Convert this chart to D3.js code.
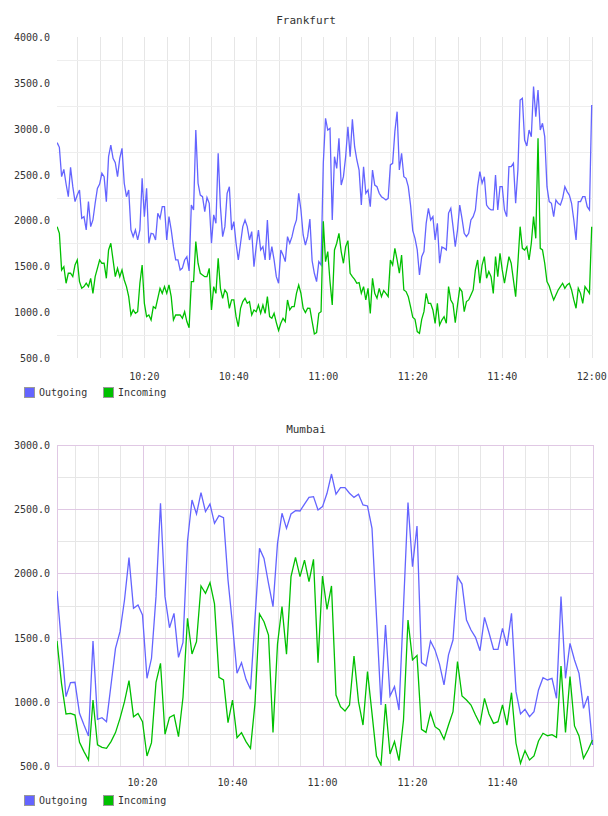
<!DOCTYPE html>
<html>
<head>
<meta charset="utf-8">
<script src="https://cdn.jsdelivr.net/npm/d3@7"></script>
<style>
body { margin: 0; background: #fff; }
text { font-family: "DejaVu Sans Mono", monospace; font-size: 10px; fill: #333; }
.title { font-size: 11px; }
</style>
</head>
<body>
<svg width="608" height="816"></svg>
<script>
// Frankfurt: one sample every 30 s, starting 10:00:30
var fraOutgoing = [2848,2797,2477,2557,2397,2259,2579,2368,2205,2277,2332,2023,2041,1896,2205,1932,2005,2187,2350,2397,
  2514,2477,2205,2695,2822,2677,2630,2477,2677,2786,2405,2259,2332,1896,1823,1896,1787,1896,2459,2041,
  2350,1751,1860,1852,1787,2078,2023,2150,2150,1787,2041,1896,1714,1569,1569,1460,1480,1569,1605,1450,
  2168,2114,2986,2405,2277,2259,2096,2250,2187,1751,2060,1969,2732,2150,1823,1932,2295,2368,1896,1987,
  1751,1569,1751,1932,2005,1932,1787,1878,1496,1714,1896,1678,1714,1569,2005,1569,1714,1569,1387,1315,
  1678,1623,1551,1823,1751,1823,1932,2005,2295,2114,1841,1732,1823,2015,1560,1424,1333,1551,1514,2623,
  3113,2986,3004,2005,2695,2568,2895,2386,2477,2695,3022,2695,3102,2804,2659,2550,2168,2586,2296,2332,
  2150,2550,2386,2368,2296,2259,2241,2223,2241,2605,2623,2968,3186,2550,2732,2477,2459,2368,2168,1889,
  1805,1678,1405,1605,1660,1969,2132,2005,2041,1787,1969,1533,1710,1700,1678,2080,2132,1932,1714,1896,
  2168,2023,1860,1823,1860,2005,2041,2114,2368,2532,2405,2477,2168,2132,2114,2114,2496,2114,2368,2368,
  2114,2041,2586,2586,2623,2187,2550,3313,3331,2877,2812,2986,2913,3459,3131,3422,2986,3059,2913,2368,
  2205,2187,2041,2223,2187,2168,2241,2368,2314,2277,2187,2005,1787,2205,2205,2259,2259,2150,2114,3259];

var fraIncoming = [1932,1860,1460,1496,1315,1424,1424,1387,1514,1569,1333,1260,1278,1315,1278,1369,1205,1387,1478,1569,
  1533,1533,1369,1678,1751,1569,1387,1478,1387,1460,1351,1278,1169,969,1024,987,1005,1315,1514,1096,
  951,969,915,1060,1042,1151,1260,1205,1278,1205,1296,1169,915,969,969,969,933,1005,897,830,
  1333,1333,1769,1533,1424,1405,1387,1387,1478,1024,1278,1205,1587,1260,1151,1242,1205,1042,1133,1133,
  951,842,1042,1115,1151,1096,1115,969,1024,1005,1078,987,1078,987,1169,951,933,987,886,800,
  878,933,897,1133,1024,1060,1060,1205,1296,1205,1042,995,1042,1040,900,762,777,987,1005,1990,
  1550,1660,1333,1078,1678,1751,1860,1660,1533,1714,1780,1424,1387,1358,1315,1322,1205,1278,1133,1260,
  987,1369,1205,1151,1260,1169,1235,1205,1169,1569,1514,1696,1569,1424,1623,1242,1224,1169,1060,944,
  922,788,769,922,1005,1205,1096,1096,1024,878,1096,860,914,951,878,1278,1133,1089,886,1078,
  1260,1224,1005,1115,1133,1187,1242,1460,1569,1315,1514,1605,1369,1442,1387,1205,1605,1387,1642,1460,
  1315,1460,1605,1533,1351,1169,1533,1932,1696,1678,1714,1569,1751,2041,1805,2895,1696,1678,1533,1333,
  1285,1205,1133,1187,1242,1278,1315,1260,1296,1315,1242,1133,1042,1260,1205,1096,1278,1242,1205,1932];

// Mumbai: one sample per minute, starting 10:01
var mumOutgoing = [1863,1450,1040,1149,1152,910,819,734,1474,863,876,845,1131,1416,1546,1793,2123,1728,1754,1676,
  1183,1339,1819,2546,1819,1577,1689,1346,1463,2250,2572,2463,2629,2481,2540,2390,2450,2434,1950,1600,
  1222,1305,1175,1097,1650,2195,2117,1923,1741,2234,2468,2351,2463,2489,2486,2540,2592,2598,2494,2520,
  2624,2774,2618,2668,2668,2624,2592,2616,2533,2525,2351,1663,975,1598,1045,1118,936,1741,2551,2052,
  2369,1305,1279,1474,1404,1294,1131,1365,1481,1975,1917,1637,1559,1502,1398,1658,1538,1409,1409,1572,
  1435,1689,1079,905,941,884,923,1092,1188,1170,1183,1027,1819,1183,1455,1326,1222,949,1045,664];

var mumIncoming = [1474,1144,905,910,897,684,612,547,1014,664,645,638,690,760,871,1001,1165,884,910,845,
  578,682,1152,1300,747,879,897,728,1035,1650,1372,1468,1902,1845,1928,1762,1191,1170,838,1014,
  721,760,690,638,988,1684,1624,1520,762,1450,1741,1370,1975,2125,1975,2104,1936,2110,1305,1980,
  1720,1902,1053,962,928,975,1357,1001,819,1235,910,578,508,983,593,690,542,858,1637,1326,
  1360,786,762,915,806,780,708,819,923,1313,1045,1014,975,897,827,1027,905,832,845,975,
  819,1071,677,521,620,547,578,695,755,736,744,723,1279,762,1196,812,734,560,625,703];

var seriesNames = ["Outgoing", "Incoming"];
var seriesColors = ["#6464ff", "#00c000"];

var fraYTicks = [500, 1000, 1500, 2000, 2500, 3000, 3500, 4000];
var fraYGrid = [750, 1250, 1750, 2250, 2750, 3250, 3750];
var mumYTicks = [500, 1000, 1500, 2000, 2500, 3000];
var mumYMinor = [750, 1250, 1750, 2250, 2750];

var fraXTicks = ["10:20", "10:40", "11:00", "11:20", "11:40", "12:00"];
var mumXTicks = ["10:20", "10:40", "11:00", "11:20", "11:40"];

var parseTime = d3.timeParse("%H:%M:%S"),
    parseHM = d3.timeParse("%H:%M"),
    fmt = d3.timeFormat("%H:%M"),
    fmtY = d3.format(".1f");

var fraStart = parseTime("10:00:30"), mumStart = parseTime("10:01:00");

var svg = d3.select("svg");

function times(start, stepSec, n) {
  return d3.range(n).map(function(i) { return new Date(+start + i * stepSec * 1000); });
}

function drawChart(o) {
  var g = svg.append("g");
  var x = o.x, y = o.y;

  // clip for the plot area
  g.append("clipPath").attr("id", o.id + "clip")
    .append("rect").attr("x", o.left).attr("y", o.top)
    .attr("width", o.right - o.left).attr("height", o.bottom - o.top);

  // vertical grid every 5 minutes
  var vg = d3.timeMinute.range(parseHM("10:05"), new Date(+o.gridEnd + 1), 5);
  var isMajor = function(d) { return o.major && d.getMinutes() % 20 == 0; };
  g.append("g").selectAll("line").data(vg.filter(function(d) { return !isMajor(d); })).enter().append("line")
    .attr("x1", function(d) { return Math.round(x(d)) + 0.5; })
    .attr("x2", function(d) { return Math.round(x(d)) + 0.5; })
    .attr("y1", o.top).attr("y2", o.bottom)
    .attr("stroke", o.vColor);

  // horizontal grid
  g.append("g").selectAll("line").data(o.hGrid).enter().append("line")
    .attr("x1", o.left).attr("x2", o.right)
    .attr("y1", function(d) { return Math.round(y(d)) + 0.5; })
    .attr("y2", function(d) { return Math.round(y(d)) + 0.5; })
    .attr("stroke", o.hColor);

  // major lines and frame (Mumbai only)
  if (o.major) {
    g.append("g").selectAll("line").data(vg.filter(isMajor)).enter().append("line")
      .attr("x1", function(d) { return Math.round(x(d)) + 0.5; })
      .attr("x2", function(d) { return Math.round(x(d)) + 0.5; })
      .attr("y1", o.top).attr("y2", o.bottom)
      .attr("stroke", o.majorColor);
    g.append("g").selectAll("line").data(o.yTicks).enter().append("line")
      .attr("x1", o.left).attr("x2", o.right)
      .attr("y1", function(d) { return Math.round(y(d)) + 0.5; })
      .attr("y2", function(d) { return Math.round(y(d)) + 0.5; })
      .attr("stroke", o.majorColor);
    g.append("line").attr("x1", o.left + 0.5).attr("x2", o.left + 0.5)
      .attr("y1", o.top).attr("y2", o.bottom).attr("stroke", o.majorColor);
    g.append("line").attr("x1", o.right - 0.5).attr("x2", o.right - 0.5)
      .attr("y1", o.top).attr("y2", o.bottom).attr("stroke", o.majorColor);
  }

  // series lines
  var t = times(o.start, o.step, o.series[0].length);
  o.series.forEach(function(vals, i) {
    var line = d3.line()
      .x(function(d, j) { return x(t[j]); })
      .y(function(d) { return y(d); });
    g.append("path").datum(vals)
      .attr("clip-path", "url(#" + o.id + "clip)")
      .attr("fill", "none")
      .attr("stroke", seriesColors[i])
      .attr("stroke-width", 1.3)
      .attr("d", line);
  });

  // title
  g.append("text").attr("class", "title")
    .attr("x", 306).attr("y", o.titleY).attr("text-anchor", "middle")
    .text(o.title);

  // y labels
  g.append("g").selectAll("text").data(o.yTicks).enter().append("text")
    .attr("x", 50).attr("y", function(d) { return y(d) + 4; })
    .attr("text-anchor", "end")
    .text(function(d) { return fmtY(d); });

  // x labels
  g.append("g").selectAll("text").data(o.xTicks).enter().append("text")
    .attr("x", function(d) { return x(parseHM(d)); })
    .attr("y", o.xLabelY)
    .attr("text-anchor", "middle")
    .text(function(d) { return fmt(parseHM(d)); });

  // legend
  var lg = g.append("g").selectAll("g").data(seriesNames).enter().append("g")
    .attr("transform", function(d, i) { return "translate(" + (24 + i * 79) + "," + o.legendY + ")"; });
  lg.append("rect").attr("x", 0.5).attr("y", 0.5).attr("width", 10).attr("height", 10)
    .attr("fill", function(d, i) { return seriesColors[i]; })
    .attr("stroke", "#999");
  lg.append("text").attr("x", 15).attr("y", 9).text(function(d) { return d; });
}

drawChart({
  id: "fra", title: "Frankfurt", titleY: 24,
  x: d3.scaleTime().domain([parseHM("10:00"), parseHM("12:00")]).range([54.9, 591.7]),
  y: d3.scaleLinear().domain([500, 4000]).range([358, 37]),
  left: 57, right: 593, top: 37, bottom: 358,
  gridEnd: parseHM("12:00"),
  hGrid: fraYGrid, yTicks: fraYTicks, xTicks: fraXTicks,
  vColor: "#e6e6e6", hColor: "#eeeeee", major: false,
  start: fraStart, step: 30,
  series: [fraOutgoing, fraIncoming],
  xLabelY: 380, legendY: 387
});

drawChart({
  id: "mum", title: "Mumbai", titleY: 433,
  x: d3.scaleTime().domain([parseHM("10:00"), parseHM("12:00")]).range([52.5, 592.5]),
  y: d3.scaleLinear().domain([500, 3000]).range([766, 445]),
  left: 57, right: 594, top: 445, bottom: 766,
  gridEnd: parseHM("11:55"),
  hGrid: mumYMinor, yTicks: mumYTicks, xTicks: mumXTicks,
  vColor: "#e6e6e6", hColor: "#e6e6e6", major: true, majorColor: "#e0c8e4",
  start: mumStart, step: 60,
  series: [mumOutgoing, mumIncoming],
  xLabelY: 786, legendY: 795
});
</script>
</body>
</html>
